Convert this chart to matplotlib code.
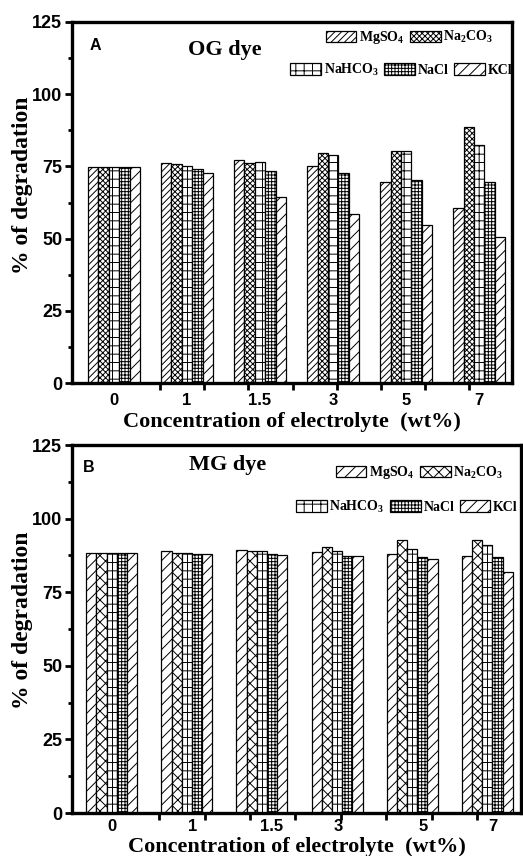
import numpy as np
import matplotlib
matplotlib.use("Agg")
import matplotlib.pyplot as plt
from matplotlib.patches import Patch

plt.rcParams['mathtext.fontset'] = 'custom'
plt.rcParams['mathtext.rm'] = 'Liberation Serif:bold'
plt.rcParams['mathtext.it'] = 'Liberation Serif:bold'
plt.rcParams['mathtext.bf'] = 'Liberation Serif:bold'
plt.rcParams['mathtext.default'] = 'rm'
plt.rcParams['hatch.linewidth'] = 0.7

categories = ['0', '1', '1.5', '3', '5', '7']
series = ['MgSO$_4$', 'Na$_2$CO$_3$', 'NaHCO$_3$', 'NaCl', 'KCl']

og_mgso4 = [74.7, 76.2, 77.3, 75.0, 69.5, 60.6]
og_na2co3 = [74.7, 75.8, 76.2, 79.6, 80.4, 88.7]
og_nahco3 = [74.7, 75.0, 76.5, 79.1, 80.2, 82.3]
og_nacl = [74.7, 74.1, 73.5, 72.6, 70.4, 69.6]
og_kcl = [74.7, 72.7, 64.3, 58.4, 54.7, 50.6]

mg_mgso4 = [88.3, 89.1, 89.5, 88.7, 87.9, 87.2]
mg_na2co3 = [88.3, 88.3, 88.9, 90.2, 92.7, 92.7]
mg_nahco3 = [88.3, 88.3, 88.9, 89.1, 89.8, 91.2]
mg_nacl = [88.3, 87.9, 87.9, 87.2, 87.0, 86.9]
mg_kcl = [88.3, 88.0, 87.5, 87.2, 86.4, 81.8]

yticks = [0, 25, 50, 75, 100, 125]

fig = plt.figure(figsize=(5.23, 8.56), dpi=100)

W, H = 523.0, 856.0
def rect(l, r, t, b):
    return [l / W, 1 - b / H, (r - l) / W, (b - t) / H]

panels = [
    dict(rect=rect(72, 512, 22, 383), data=[og_mgso4, og_na2co3, og_nahco3, og_nacl, og_kcl],
         xlim=(-0.575, 5.45), w=0.142, title='OG dye', letter='A',
         hatches=['/////', 'xxxxxx', '++', '+++++', '///'],
         labelpos=[0, 1, 2, 3, 4, 5], labelpad=7, xlabel_y=-0.079,
         ylabel_xy=(-0.089, 0.548), title_xy=(0.348, 0.922), letter_xy=(0.04, 0.955),
         leg1=(0.957, 0.956), leg2=(1.0, 0.867)),
    dict(rect=rect(72, 521, 445, 813), data=[mg_mgso4, mg_na2co3, mg_nahco3, mg_nacl, mg_kcl],
         xlim=(-0.53, 5.45), w=0.136, title='MG dye', letter='B',
         hatches=['///', 'xxx', '++', '+++++', '///'],
         labelpos=[0, 1.08, 2.13, 3.01, 4.15, 5.08], labelpad=4, xlabel_y=-0.064,
         ylabel_xy=(-0.087, 0.524), title_xy=(0.347, 0.946), letter_xy=(0.025, 0.96),
         leg1=(0.96, 0.924), leg2=(0.993, 0.832)),
]

x = np.arange(len(categories))
for p in panels:
    ax = fig.add_axes(p['rect'])
    w = p['w']
    handles = []
    for i, (vals, hatch, name) in enumerate(zip(p['data'], p['hatches'], series)):
        ax.bar(x + (i - 2) * w, vals, width=w, color='white', edgecolor='black',
               linewidth=0.9, hatch=hatch, zorder=2)
        handles.append(Patch(facecolor='white', edgecolor='black', hatch=hatch,
                             linewidth=0.9, label=name))
    ax.set_xlim(*p['xlim'])
    ax.set_ylim(0, 125)
    for s in ax.spines.values():
        s.set_linewidth(2.4)
    ax.set_yticks(yticks)
    ax.set_yticks(np.arange(12.5, 125, 25), minor=True)
    ax.set_yticklabels([str(v) for v in yticks], fontfamily='Liberation Sans',
                       fontweight='bold', fontsize=13)
    ax.tick_params(axis='y', which='major', direction='out', length=5, width=2, pad=2)
    ax.tick_params(axis='y', which='minor', direction='out', length=3, width=2)
    ax.set_xticks(p['labelpos'])
    ax.set_xticklabels(categories, fontfamily='Liberation Sans', fontweight='bold', fontsize=12)
    ax.set_xticks(np.arange(0.63, 5.45, 0.605), minor=True)
    ax.tick_params(axis='x', which='major', length=0, pad=p['labelpad'])
    ax.tick_params(axis='x', which='minor', direction='out', length=5, width=2)
    ax.set_xlabel('Concentration of electrolyte  (wt%)', fontfamily='Liberation Serif',
                  fontweight='bold', fontsize=16)
    ax.xaxis.set_label_coords(0.5, p['xlabel_y'])
    ax.set_ylabel('% of degradation', fontfamily='Liberation Serif', fontweight='bold',
                  fontsize=17)
    ax.yaxis.set_label_coords(*p['ylabel_xy'])
    ax.text(*p['letter_xy'], p['letter'], transform=ax.transAxes, fontfamily='Liberation Sans',
            fontweight='bold', fontsize=11.5, va='top', ha='left')
    ax.text(*p['title_xy'], p['title'], transform=ax.transAxes, fontfamily='Liberation Serif',
            fontweight='bold', fontsize=16, va='center', ha='center')
    leg_kw = dict(frameon=False, prop=dict(family='Liberation Serif', weight='bold', size=10),
                  handlelength=2.2, handleheight=0.9, handletextpad=0.2, columnspacing=0.4,
                  borderaxespad=0.0, borderpad=0.0, loc='center right')
    l1 = ax.legend(handles[:2], series[:2], ncol=2, bbox_to_anchor=p['leg1'], **leg_kw)
    ax.add_artist(l1)
    ax.legend(handles[2:], series[2:], ncol=3, bbox_to_anchor=p['leg2'], **leg_kw)

fig.savefig('out.png', dpi=100)
